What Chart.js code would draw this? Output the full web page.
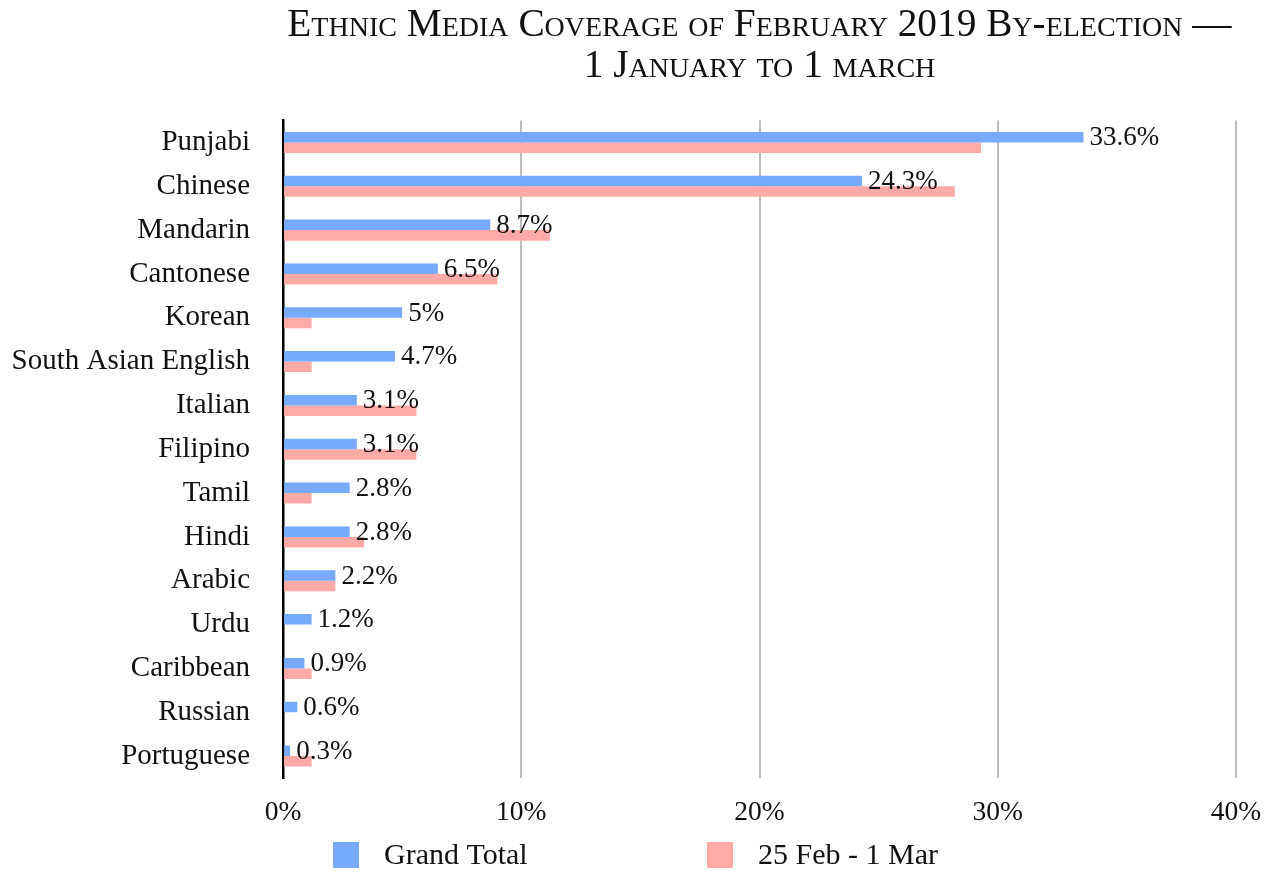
<!DOCTYPE html>
<html>
<head>
<meta charset="utf-8">
<script src="https://cdn.jsdelivr.net/npm/chart.js@4"></script>
<style>
  html, body { margin: 0; padding: 0; background: #fff; }
  #wrap { width: 1276px; height: 872px; }
</style>
</head>
<body>
<div id="wrap"><canvas id="media-chart"></canvas></div>
<script>
// Data
const languages = ['Punjabi', 'Chinese', 'Mandarin', 'Cantonese', 'Korean', 'South Asian English',
  'Italian', 'Filipino', 'Tamil', 'Hindi', 'Arabic', 'Urdu', 'Caribbean', 'Russian', 'Portuguese'];
const grandTotal = [33.6, 24.3, 8.7, 6.5, 5, 4.7, 3.1, 3.1, 2.8, 2.8, 2.2, 1.2, 0.9, 0.6, 0.3];
const lastWeek = [29.3, 28.2, 11.2, 9.0, 1.2, 1.2, 5.6, 5.6, 1.2, 3.4, 2.2, 0, 1.2, 0, 1.2];
const seriesNames = ['Grand Total', '25 Feb - 1 Mar'];
const xTicks = [0, 10, 20, 30, 40];

const SERIF = '"Liberation Serif", "Times New Roman", serif';

// value labels to the right of the blue bars
const valueLabels = {
  id: 'valueLabels',
  afterDatasetsDraw(chart) {
    const ctx = chart.ctx;
    const meta = chart.getDatasetMeta(0);
    ctx.save();
    ctx.font = '27px ' + SERIF;
    ctx.fillStyle = '#111';
    ctx.textAlign = 'left';
    ctx.textBaseline = 'middle';
    meta.data.forEach((bar, i) => {
      ctx.fillText(grandTotal[i] + '%', bar.x + 6, bar.y + 1);
    });
    ctx.restore();
  }
};

// legend with wide gap between the two items
const wideLegend = {
  id: 'wideLegend',
  afterDraw(chart) {
    const ctx = chart.ctx;
    const box = 26, slot = 374;
    const y = chart.height - 17;
    let x = chart.width / 2 - 305;
    ctx.save();
    ctx.font = '30px ' + SERIF;
    ctx.textBaseline = 'middle';
    ctx.textAlign = 'left';
    chart.data.datasets.forEach(ds => {
      ctx.fillStyle = ds.backgroundColor;
      ctx.fillRect(x, y - box / 2, box, box);
      ctx.fillStyle = '#111';
      ctx.fillText(ds.label, x + box + 25, y + 1);
      x += slot;
    });
    ctx.restore();
  }
};

const ctx = document.getElementById('media-chart').getContext('2d');
new Chart(ctx, {
  type: 'bar',
  data: {
    labels: languages,
    datasets: [
      { label: seriesNames[0], data: grandTotal, backgroundColor: '#78aafc' },
      { label: seriesNames[1], data: lastWeek, backgroundColor: '#ffaaa7' }
    ]
  },
  options: {
    indexAxis: 'y',
    responsive: true,
    maintainAspectRatio: false,
    animation: false,
    categoryPercentage: 0.48,
    barPercentage: 1,
    layout: { padding: { left: 0, right: 40, top: 0, bottom: 25 } },
    plugins: {
      legend: { display: false },
      tooltip: { enabled: false },
      title: {
        display: true,
        fullSize: false,
        text: ['Ethnic Media Coverage of February 2019 By-election \u2014', '1 January to 1 march'],
        color: '#111',
        // small-caps slipped in through the weight slot of the font string
        font: { family: SERIF, size: 39.3, weight: 'small-caps', lineHeight: 1.05 },
        padding: { top: 5, bottom: 33 }
      }
    },
    scales: {
      x: {
        min: 0,
        max: 40,
        afterBuildTicks: scale => { scale.ticks = xTicks.map(v => ({ value: v })); },
        // let layout.padding decide the right edge, not the "40%" label
        afterFit: scale => { scale.paddingLeft = 0; scale.paddingRight = 0; },
        grid: {
          color: c => (c.tick && c.tick.value === 0 ? '#000' : '#bdbdbd'),
          lineWidth: 2,
          drawTicks: false
        },
        border: { display: false },
        ticks: {
          padding: 18,
          color: '#111',
          font: { family: SERIF, size: 27.5 },
          callback: v => v + '%'
        }
      },
      y: {
        afterFit: scale => { scale.width = 283; },
        grid: { display: false, drawTicks: false },
        border: { display: true, color: '#000', width: 2.5 },
        ticks: {
          padding: 33,
          color: '#111',
          font: { family: SERIF, size: 29 }
        }
      }
    }
  },
  plugins: [valueLabels, wideLegend]
});
</script>
</body>
</html>
